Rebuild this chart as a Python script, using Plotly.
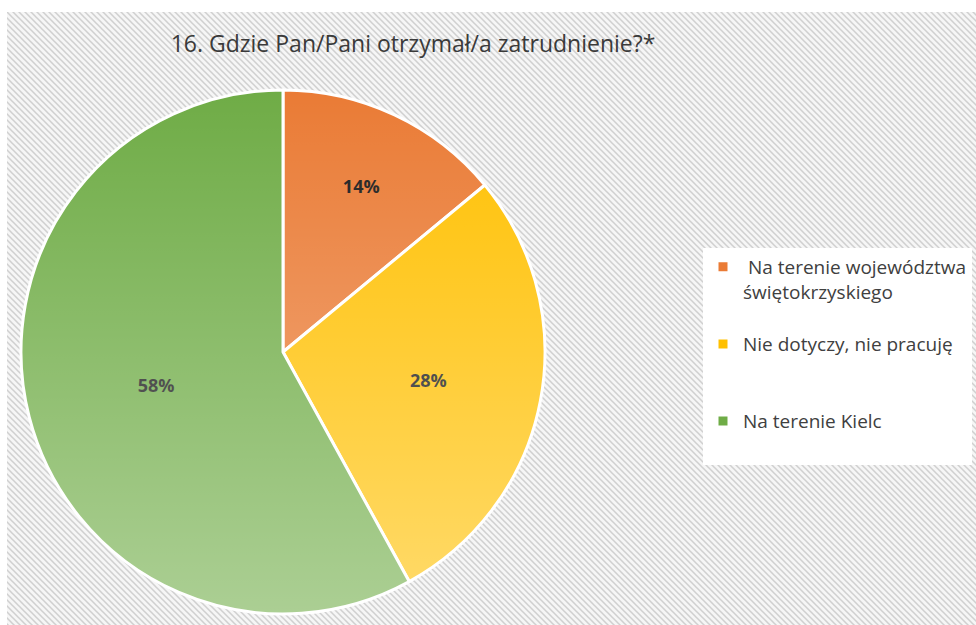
import base64

import plotly.graph_objects as go

# data
labels = [" Na terenie województwa<br>świętokrzyskiego", "Nie dotyczy, nie pracuję", "Na terenie Kielc"]
values = [14, 28, 58]
colors = ["#EA7B35", "#FFC000", "#6FAC46"]
title = "16. Gdzie Pan/Pani otrzymał/a zatrudnienie?*"

W, H = 976, 625

# Excel spreads the legend entries out; pad each entry with blank lines
legend_pad = [1, 2, 1]
legend_names = [l + "<br> " * n for l, n in zip(labels, legend_pad)]


def svg_uri(svg: str) -> str:
    return "data:image/svg+xml;base64," + base64.b64encode(svg.encode("utf-8")).decode("ascii")


# hatched background like the Excel chart area
hatch_svg = (
    '<svg xmlns="http://www.w3.org/2000/svg" width="969" height="613" viewBox="0 0 969 613">'
    '<defs><pattern id="p" width="6" height="6" patternUnits="userSpaceOnUse">'
    '<rect width="6" height="6" fill="#f6f6f6"/>'
    '<path d="M-1,-1 L7,7 M-4,2 L1,7 M2,-4 L7,1" stroke="#d0d0d0" stroke-width="1.5"/>'
    '</pattern></defs>'
    '<rect width="969" height="613" fill="url(#p)"/></svg>'
)

# soft vertical gradient over the pie (darker top, lighter bottom)
grad_svg = (
    '<svg xmlns="http://www.w3.org/2000/svg" width="100" height="100" viewBox="0 0 100 100">'
    '<defs><linearGradient id="g" x1="0" y1="0" x2="0" y2="1">'
    '<stop offset="0" stop-color="#ffffff" stop-opacity="0"/>'
    '<stop offset="1" stop-color="#ffffff" stop-opacity="0.42"/>'
    '</linearGradient></defs>'
    '<circle cx="50" cy="50" r="50" fill="url(#g)"/></svg>'
)

pie_x = [21 / W, 545 / W]
pie_y = [1 - 614 / H, 1 - 90 / H]

fig = go.Figure(
    go.Pie(
        labels=legend_names,
        values=values,
        customdata=[l.replace("<br>", " ").strip() for l in labels],
        sort=False,
        direction="clockwise",
        rotation=0,
        marker=dict(colors=colors, line=dict(color="white", width=3)),
        textinfo="percent",
        textposition="inside",
        insidetextorientation="horizontal",
        textfont=dict(family="Open Sans", size=18, color="#1a1a1a", weight="bold"),
        domain=dict(x=pie_x, y=pie_y),
        hovertemplate="%{customdata}: %{percent}<extra></extra>",
    )
)

fig.update_layout(
    width=W,
    height=H,
    margin=dict(l=0, r=0, t=0, b=0),
    paper_bgcolor="white",
    plot_bgcolor="white",
    title=dict(
        text=title,
        x=413 / W,
        xanchor="center",
        y=1 - 44 / H,
        yanchor="middle",
        font=dict(family="Open Sans", size=23, color="#3a3a3a"),
    ),
    legend=dict(
        x=703 / W,
        xanchor="left",
        y=1 - 248 / H,
        yanchor="top",
        valign="top",
        bgcolor="white",
        font=dict(family="Open Sans", size=19, color="#404040"),
        itemwidth=30,
    ),
    images=[
        dict(source=svg_uri(hatch_svg), xref="paper", yref="paper",
             x=7 / W, y=1 - 12 / H, sizex=1 - 7 / W, sizey=1 - 12 / H,
             xanchor="left", yanchor="top", sizing="stretch", layer="below"),
        dict(source=svg_uri(grad_svg), xref="paper", yref="paper",
             x=pie_x[0], y=pie_y[1], sizex=pie_x[1] - pie_x[0], sizey=pie_y[1] - pie_y[0],
             xanchor="left", yanchor="top", sizing="stretch", layer="above"),
    ],
)

# drop the browser's default 8px body margin so the figure sits at (0, 0)
fig.write_html("out.html", config={"displayModeBar": False},
               post_script="document.body.style.margin='0';")
